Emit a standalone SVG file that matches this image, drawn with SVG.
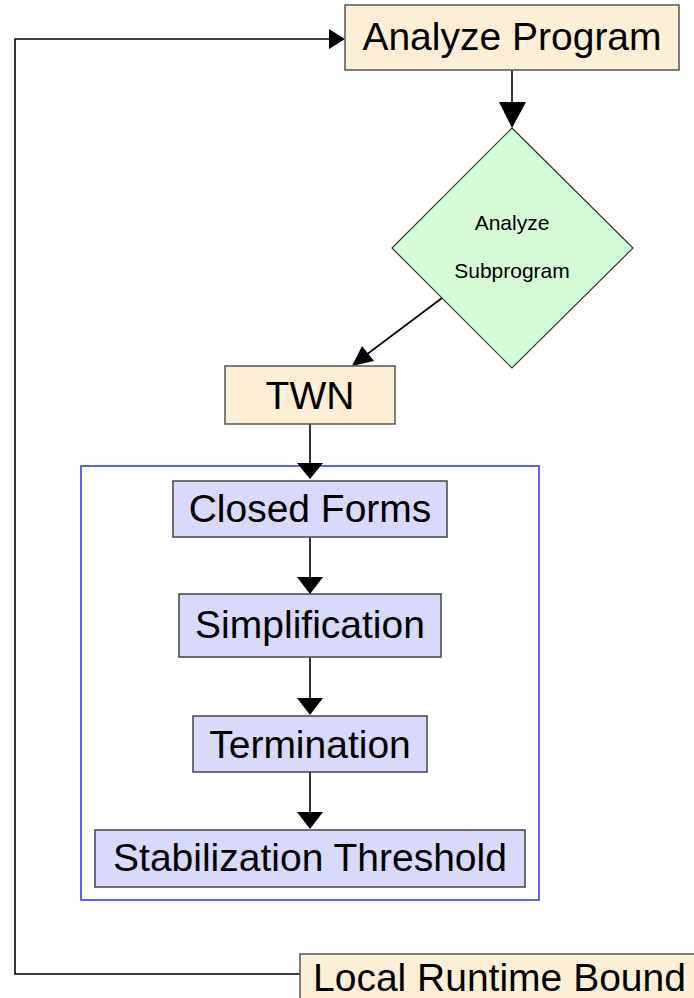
<svg xmlns="http://www.w3.org/2000/svg" width="694" height="998" viewBox="0 0 694 998">
<style>
.cream{fill:#fdefd6;stroke:#555;stroke-width:1.5}
.blue{fill:#d9d9fb;stroke:#444;stroke-width:1.5}
.dia{fill:#d6fad6;stroke:#333;stroke-width:1.2}
.t{font-family:"Liberation Sans",Arial,sans-serif;font-size:39px;fill:#000;text-anchor:middle}
.s{font-family:"Liberation Sans",Arial,sans-serif;font-size:21px;fill:#000;text-anchor:middle}
.ln{fill:none;stroke:#000;stroke-width:1.6}
.ah{fill:#000}
</style>
<rect x="81" y="466" width="458" height="434" fill="none" stroke="#3a3aff" stroke-width="1.6"/>
<g id="connectors">
<polyline class="ln" points="300,974 15,974 15,39 331,39"/>
<polygon class="ah" points="345,39 329,29 329,49"/>
<line class="ln" x1="512" y1="70" x2="512" y2="104"/>
<polygon class="ah" points="512,128 499,102 526,102"/>
<line class="ln" x1="442" y1="298" x2="366" y2="355"/>
<polygon class="ah" points="352,366 362,346 374,361"/>
<line class="ln" x1="310" y1="424" x2="310" y2="465"/>
<polygon class="ah" points="310,479 297,463 323,463"/>
<line class="ln" x1="310" y1="537" x2="310" y2="579"/>
<polygon class="ah" points="310,594 297,577 323,577"/>
<line class="ln" x1="310" y1="657" x2="310" y2="700"/>
<polygon class="ah" points="310,715 297,698 323,698"/>
<line class="ln" x1="310" y1="772" x2="310" y2="814"/>
<polygon class="ah" points="310,829 297,812 323,812"/>
</g>
<g id="analyze-program">
<rect class="cream" x="345" y="5" width="334" height="65"/>
<text class="t" x="512" y="50">Analyze Program</text>
</g>
<g id="analyze-subprogram">
<polygon class="dia" points="512,128 633,248 512,368 392,248"/>
<text class="s" x="512" y="230">Analyze</text>
<text class="s" x="512" y="278">Subprogram</text>
</g>
<g id="twn">
<rect class="cream" x="225" y="366" width="170" height="58"/>
<text class="t" x="310" y="409">TWN</text>
</g>
<g id="closed-forms">
<rect class="blue" x="173" y="481" width="274" height="56"/>
<text class="t" x="310" y="522">Closed Forms</text>
</g>
<g id="simplification">
<rect class="blue" x="179" y="594" width="262" height="63"/>
<text class="t" x="310" y="638">Simplification</text>
</g>
<g id="termination">
<rect class="blue" x="193" y="716" width="234" height="56"/>
<text class="t" x="310" y="758">Termination</text>
</g>
<g id="stabilization-threshold">
<rect class="blue" x="95" y="830" width="430" height="57"/>
<text class="t" x="310" y="871">Stabilization Threshold</text>
</g>
<g id="local-runtime-bound">
<rect class="cream" x="300" y="954" width="420" height="60"/>
<text font-family="Liberation Sans, Arial, sans-serif" font-size="39" fill="#000" x="313" y="991">Local Runtime Bound</text>
</g>
</svg>
